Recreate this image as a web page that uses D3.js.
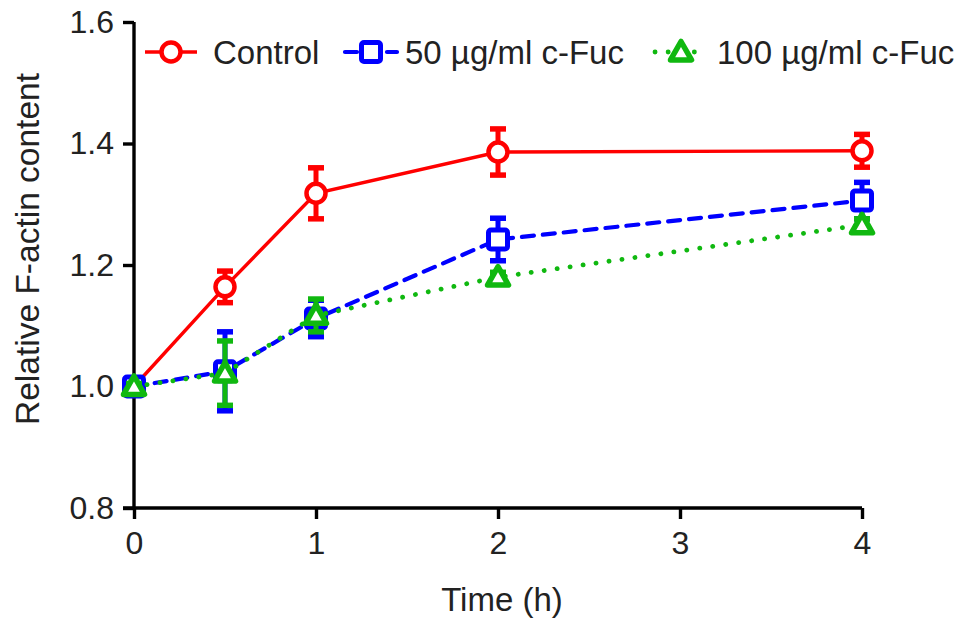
<!DOCTYPE html>
<html><head><meta charset="utf-8">
<script src="https://cdn.jsdelivr.net/npm/d3@7"></script>
<style>body{margin:0;background:#fff}svg{display:block}text{font-family:"Liberation Sans",Arial,sans-serif;fill:#222}</style>
</head><body><div id="c"></div>
<script>
const times = [0, 0.5, 1, 2, 4];
const seriesNames = ["Control", "50 \u00b5g/ml c-Fuc", "100 \u00b5g/ml c-Fuc"];
const controlMean = [1.0, 1.164, 1.318, 1.386, 1.388];
const controlErr  = [0.005, 0.026, 0.042, 0.038, 0.027];
const fuc50Mean   = [1.0, 1.025, 1.112, 1.242, 1.306];
const fuc50Err    = [0.006, 0.065, 0.030, 0.035, 0.030];
const fuc100Mean  = [1.0, 1.022, 1.117, 1.180, 1.266];
const fuc100Err   = [0.005, 0.053, 0.027, 0.008, 0.010];
const xTicks = [0, 1, 2, 3, 4];
const yTicks = [0.8, 1.0, 1.2, 1.4, 1.6];

const W = 969, H = 630;
const svg = d3.select("#c").append("svg").attr("width", W).attr("height", H);
const x = d3.scaleLinear().domain([0, 4]).range([134, 862]);
const y = d3.scaleLinear().domain([0.8, 1.6]).range([508, 22]);

const series = [
  {name: seriesNames[0], mean: controlMean, err: controlErr, color: "#ff0000", dash: null, width: 3.4, cap: "butt", shape: "circle"},
  {name: seriesNames[1], mean: fuc50Mean, err: fuc50Err, color: "#0000ff", dash: "12,9", width: 4.2, cap: "round", shape: "square"},
  {name: seriesNames[2], mean: fuc100Mean, err: fuc100Err, color: "#10b810", dash: "0.1,13", width: 4.8, cap: "round", shape: "triangle"}
];

// axes
const yAxis = svg.append("g").attr("transform", "translate(134,0)")
  .call(d3.axisLeft(y).tickValues(yTicks).tickFormat(d3.format(".1f")).tickSize(11).tickPadding(9));
const xAxis = svg.append("g").attr("transform", "translate(0,508)")
  .call(d3.axisBottom(x).tickValues(xTicks).tickFormat(d3.format("d")).tickSize(11).tickPadding(12));
[yAxis, xAxis].forEach(g => {
  g.select(".domain").attr("stroke", "#000").attr("stroke-width", 3.4);
  g.selectAll(".tick line").attr("stroke", "#000").attr("stroke-width", 3.4);
  g.selectAll(".tick text").style("font-size", "32px").attr("fill", "#222");
});
yAxis.select(".domain").attr("d", "M0,22V508");
xAxis.select(".domain").attr("d", "M123,0H862");
xAxis.selectAll(".tick text").attr("dy", "0.71em");

svg.append("text").attr("x", 502).attr("y", 611).attr("text-anchor", "middle").style("font-size", "33px").text("Time (h)");
svg.append("text").attr("transform", "translate(39,249) rotate(-90)").attr("text-anchor", "middle").style("font-size", "33.5px").text("Relative F-actin content");

function marker(g, shape, cx, cy, color) {
  if (shape === "circle") {
    g.append("circle").attr("cx", cx).attr("cy", cy).attr("r", 9.5).attr("fill", "#fff").attr("stroke", color).attr("stroke-width", 4.5);
  } else if (shape === "square") {
    g.append("rect").attr("x", cx - 9.5).attr("y", cy - 9.5).attr("width", 19).attr("height", 19).attr("rx", 2.5)
      .attr("fill", "#fff").attr("stroke", color).attr("stroke-width", 5);
  } else {
    const s = 10.5;
    g.append("path").attr("d", `M${cx},${cy - s}L${cx + s},${cy + s * 0.75}L${cx - s},${cy + s * 0.75}Z`)
      .attr("fill", "#fff").attr("stroke", color).attr("stroke-width", 5.5).attr("stroke-linejoin", "round");
  }
}

const line = d3.line().x(d => x(d[0])).y(d => y(d[1]));
series.forEach(s => {
  const g = svg.append("g");
  const pts = times.map((t, i) => [t, s.mean[i]]);
  g.append("path").attr("d", line(pts)).attr("fill", "none").attr("stroke", s.color)
    .attr("stroke-width", s.width).attr("stroke-dasharray", s.dash).attr("stroke-linecap", s.cap);
  times.forEach((t, i) => {
    const cx = x(t), top = y(s.mean[i] + s.err[i]), bot = y(s.mean[i] - s.err[i]);
    g.append("line").attr("x1", cx).attr("x2", cx).attr("y1", top).attr("y2", bot).attr("stroke", s.color).attr("stroke-width", 5);
    [top, bot].forEach(yy => g.append("line").attr("x1", cx - 8).attr("x2", cx + 8).attr("y1", yy).attr("y2", yy)
      .attr("stroke", s.color).attr("stroke-width", 5.5));
    marker(g, s.shape, cx, y(s.mean[i]), s.color);
  });
});

// legend
const legX = [145, 345, 655];
const textX = [213, 405, 717];
series.forEach((s, i) => {
  const g = svg.append("g");
  g.append("line").attr("x1", legX[i]).attr("x2", legX[i] + 52).attr("y1", 52).attr("y2", 52)
    .attr("stroke", s.color).attr("stroke-width", s.width).attr("stroke-dasharray", s.dash).attr("stroke-linecap", s.cap);
  marker(g, s.shape, legX[i] + 26, 52, s.color);
  g.append("text").attr("x", textX[i]).attr("y", 52).attr("dy", "0.36em").style("font-size", "33px").text(s.name);
});
</script></body></html>
